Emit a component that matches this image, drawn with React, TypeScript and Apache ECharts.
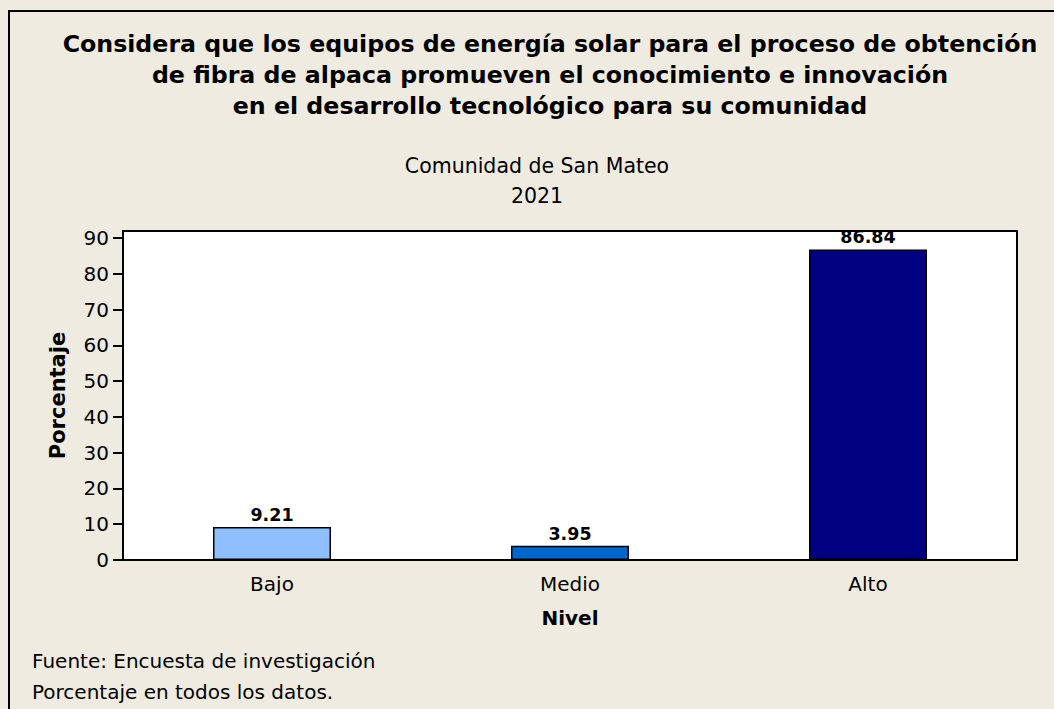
import React, { useEffect, useRef } from "react";
import * as echarts from "echarts";

const categories = ["Bajo", "Medio", "Alto"];
const values = [9.21, 3.95, 86.84];
const barColors = ["#8FBFFF", "#0066CC", "#000080"];
const yTicks = [0, 10, 20, 30, 40, 50, 60, 70, 80, 90];
const titleLines = [
  "Considera que los equipos de energía solar para el proceso de obtención",
  "de fibra de alpaca promueven el conocimiento e innovación",
  "en el desarrollo tecnológico para su comunidad",
];
const subtitleLines = ["Comunidad de San Mateo", "2021"];
const footerLines = ["Fuente: Encuesta de investigación", "Porcentaje en todos los datos."];
const xName = "Nivel";
const yName = "Porcentaje";

const FONT = "'DejaVu Sans', Verdana, sans-serif";

export default function App() {
  const ref = useRef<HTMLDivElement>(null);
  useEffect(() => {
    if (!ref.current) return;
    const chart = echarts.init(ref.current, null, { renderer: "svg" });
    const graphics: any[] = [
      {
        type: "rect",
        shape: { x: 9, y: 11, width: 1200, height: 900 },
        style: { fill: "none", stroke: "#000", lineWidth: 2 },
        silent: true,
      },
    ];
    titleLines.forEach((t, i) => {
      graphics.push({
        type: "text",
        x: 550,
        y: 44 + i * 31,
        style: { text: t, font: `bold 23.7px ${FONT}`, fill: "#000", textAlign: "center", textVerticalAlign: "middle" },
      });
    });
    subtitleLines.forEach((t, i) => {
      graphics.push({
        type: "text",
        x: 537,
        y: 166 + i * 30,
        style: { text: t, font: `20.5px ${FONT}`, fill: "#000", textAlign: "center", textVerticalAlign: "middle" },
      });
    });
    footerLines.forEach((t, i) => {
      graphics.push({
        type: "text",
        x: 32,
        y: 661 + i * 31,
        style: { text: t, font: `20px ${FONT}`, fill: "#000", textAlign: "left", textVerticalAlign: "middle" },
      });
    });
    chart.setOption({
      animation: false,
      backgroundColor: "#EFEBE1",
      textStyle: { fontFamily: FONT },
      grid: {
        left: 123,
        top: 231,
        right: 37,
        bottom: 149,
        show: true,
        backgroundColor: "#FFFFFF",
        borderColor: "#000",
        borderWidth: 2,
        containLabel: false,
      },
      xAxis: {
        type: "category",
        data: categories,
        name: xName,
        nameLocation: "middle",
        nameGap: 48,
        nameTextStyle: { fontWeight: "bold", fontSize: 20, color: "#000", fontFamily: FONT },
        axisLine: { lineStyle: { color: "#000", width: 2 } },
        axisTick: { alignWithLabel: true, length: 8, lineStyle: { color: "#000", width: 2 } },
        axisLabel: { color: "#000", fontSize: 20, margin: 14, fontFamily: FONT },
        splitLine: { show: false },
      },
      yAxis: {
        type: "value",
        min: 0,
        max: 92,
        name: yName,
        nameLocation: "middle",
        nameGap: 55,
        nameRotate: 90,
        nameTextStyle: { fontWeight: "bold", fontSize: 21, color: "#000", fontFamily: FONT },
        axisLine: { show: true, lineStyle: { color: "#000", width: 2 } },
        axisTick: { show: true, length: 10, lineStyle: { color: "#000", width: 2 }, customValues: yTicks },
        axisLabel: { color: "#000", fontSize: 20, margin: 14, fontFamily: FONT, customValues: yTicks },
        splitLine: { show: false },
      },
      graphic: graphics,
      series: [
        {
          type: "bar",
          barWidth: 118,
          data: values.map((v, i) => ({
            value: v,
            itemStyle: { color: barColors[i], borderColor: "#000", borderWidth: 1.5 },
          })),
          label: {
            show: true,
            position: "top",
            distance: 3,
            color: "#000",
            fontWeight: "bold",
            fontSize: 17.5,
            fontFamily: FONT,
            formatter: (p: any) => p.value.toFixed(2),
          },
        },
      ],
    });
    return () => chart.dispose();
  }, []);
  return (
    <div
      ref={ref}
      style={{ position: "fixed", left: 0, top: 0, width: 1054, height: 709 }}
    />
  );
}
